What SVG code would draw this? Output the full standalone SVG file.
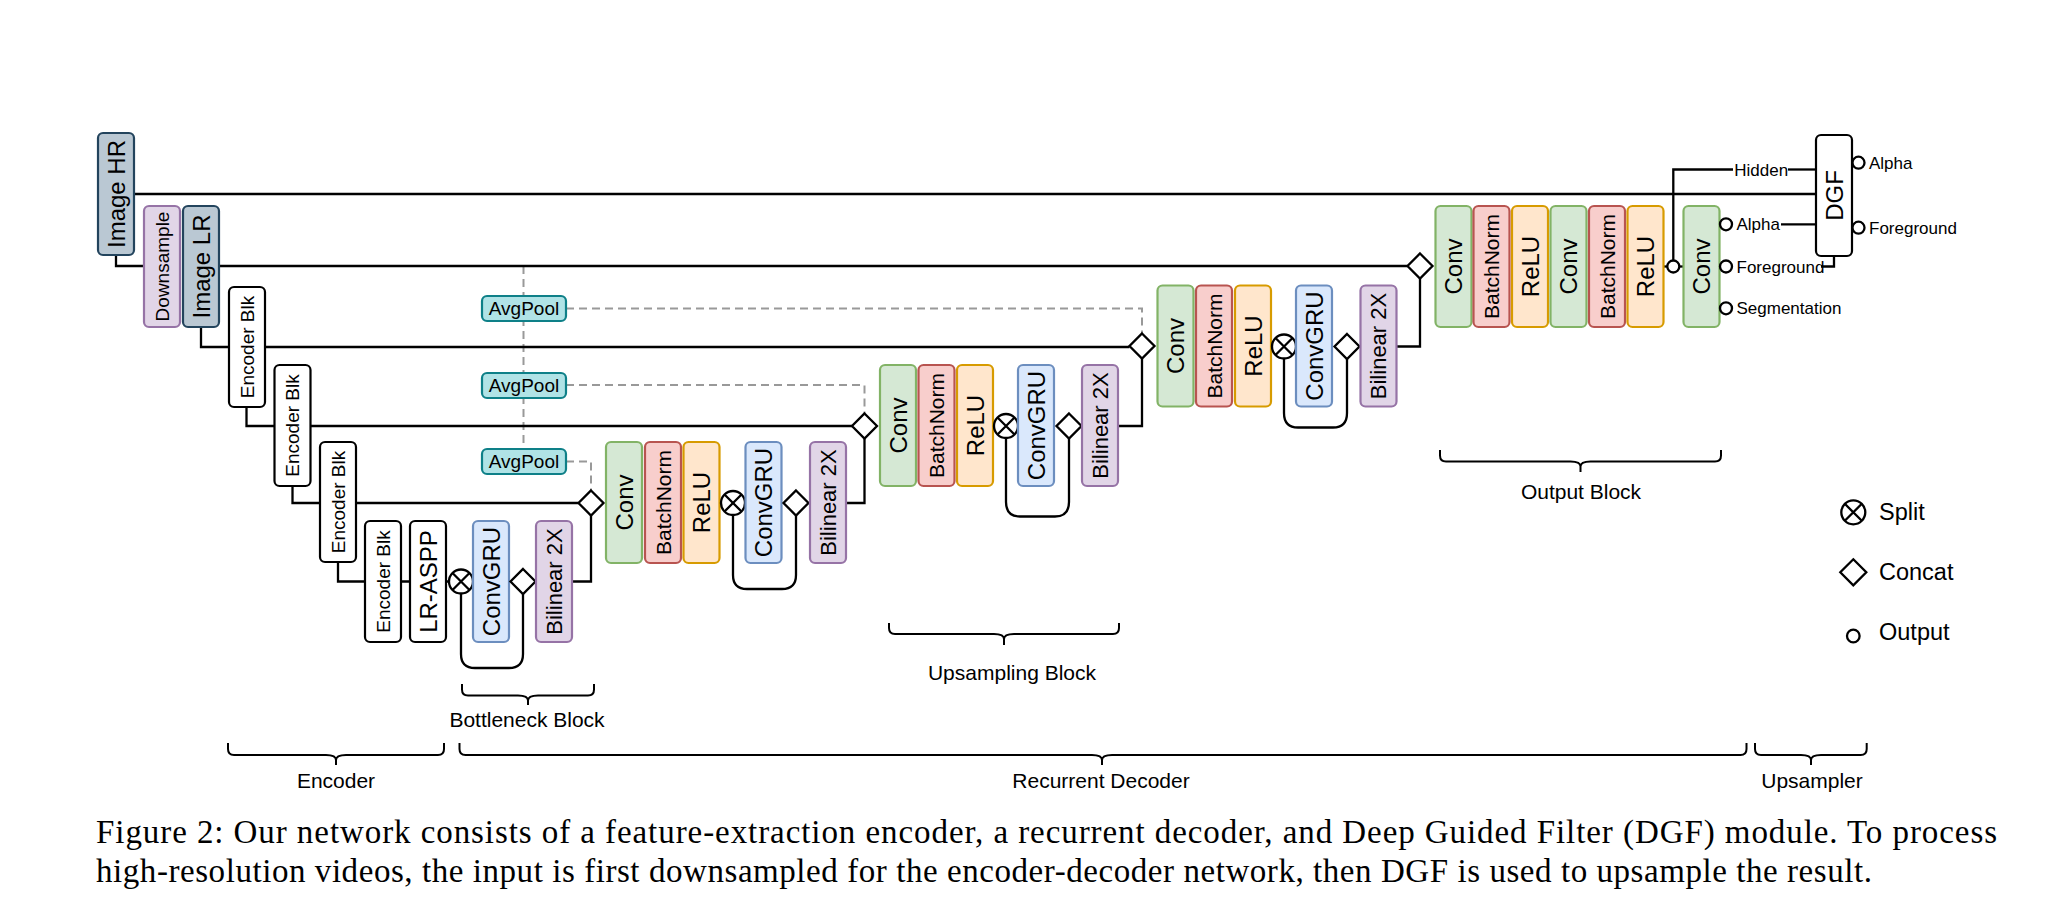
<svg xmlns="http://www.w3.org/2000/svg" width="2056" height="918" viewBox="0 0 2056 918">
<style>
rect.n{stroke-width:2.2}
.g{fill:#d5e8d4;stroke:#82b366}
.r{fill:#f8cecc;stroke:#b85450}
.o{fill:#ffe6cc;stroke:#d79b00}
.b{fill:#dae8fc;stroke:#6c8ebf}
.p{fill:#e1d5e7;stroke:#9673a6}
.s{fill:#bac8d3;stroke:#23445d}
.t{fill:#b0e3e6;stroke:#0e8088}
.w{fill:#ffffff;stroke:#000000}
text{font-family:"Liberation Sans",Arial,Helvetica,sans-serif;fill:#000}
.vt{text-anchor:middle;dominant-baseline:central}
.f24{font-size:24px}.f22{font-size:22px}.f21{font-size:21px}.f19{font-size:19px}
.sm{font-size:17px}
.lb{font-size:21px;text-anchor:middle}
.lg{font-size:23.5px}
.cap{font-family:"Liberation Serif","Times New Roman",serif;font-size:33px}
.ln{fill:none;stroke:#000;stroke-width:2.3}
.da{fill:none;stroke:#999;stroke-width:2;stroke-dasharray:8 5}
.sym{fill:#fff;stroke:#000;stroke-width:2.3}
.br{fill:none;stroke:#000;stroke-width:2}
</style>
<defs>
<g id="split"><circle r="12" class="sym"/><path d="M-8.5 -8.5L8.5 8.5M8.5 -8.5L-8.5 8.5" class="ln"/></g>
<path id="concat" d="M0 -12.5L12.5 0L0 12.5L-12.5 0Z" class="sym"/>
<circle id="outc" r="6" class="sym"/>
</defs>

<g id="connectors">
<path class="da" d="M523.5 266V449"/>
<path class="da" d="M566 308.5H1142V333.5"/>
<path class="da" d="M566 385H864.5V413.5"/>
<path class="da" d="M566 461.5H591V490.5"/>
<path class="ln" d="M134 194H1816"/>
<path class="ln" d="M116 255V266H144"/>
<path class="ln" d="M219 266H1407.5"/>
<path class="ln" d="M201 327V347H1129.5"/>
<path class="ln" d="M246.5 407V426H852"/>
<path class="ln" d="M292.5 486V503H578.5"/>
<path class="ln" d="M338 562V581.5H449"/>
<path class="ln" d="M573 581.5H591V515.5"/>
<path class="ln" d="M461 593.5V654Q461 668 475 668H509Q523 668 523 654V594"/>
<path class="ln" d="M846 503H864.5V438.5"/>
<path class="ln" d="M733 515V575Q733 589 747 589H782Q796 589 796 575V515.5"/>
<path class="ln" d="M1118 426H1142V358.5"/>
<path class="ln" d="M1006 438V502Q1006 516.5 1020 516.5H1055Q1069 516.5 1069 502V438.5"/>
<path class="ln" d="M1397 346.5H1420V278.5"/>
<path class="ln" d="M1284 358.5V413Q1284 427.5 1298 427.5H1333Q1347 427.5 1347 413V359"/>
<path class="ln" d="M1664 266.5H1683.5"/>
<path class="ln" d="M1673.3 260.5V169.5H1733"/>
<path class="ln" d="M1788 169.5H1816"/>
<path class="ln" d="M1781 224.3H1816"/>
<path class="ln" d="M1821 266.5H1834V256"/>
</g>

<g id="image_hr"><rect class="n s" x="98" y="133" width="36" height="122" rx="5"/><text class="vt f24" transform="translate(116 194) rotate(-90)">Image HR</text></g>
<g id="downsample"><rect class="n p" x="144" y="206" width="36" height="121" rx="5"/><text class="vt f19" transform="translate(162 266.5) rotate(-90)">Downsample</text></g>
<g id="image_lr"><rect class="n s" x="183" y="206" width="36" height="121" rx="5"/><text class="vt f24" transform="translate(201 266.5) rotate(-90)">Image LR</text></g>
<g id="enc1"><rect class="n w" x="229" y="287" width="36" height="120" rx="5"/><text class="vt f19" transform="translate(247 347) rotate(-90)">Encoder Blk</text></g>
<g id="enc2"><rect class="n w" x="274.5" y="365" width="36" height="121" rx="5"/><text class="vt f19" transform="translate(292.5 425.5) rotate(-90)">Encoder Blk</text></g>
<g id="enc3"><rect class="n w" x="320" y="442" width="36" height="120" rx="5"/><text class="vt f19" transform="translate(338 502) rotate(-90)">Encoder Blk</text></g>
<g id="enc4"><rect class="n w" x="365" y="521" width="36" height="121" rx="5"/><text class="vt f19" transform="translate(383 581.5) rotate(-90)">Encoder Blk</text></g>
<g id="lraspp"><rect class="n w" x="410" y="521" width="36" height="121" rx="5"/><text class="vt f24" transform="translate(428 581.5) rotate(-90)">LR-ASPP</text></g>
<g id="bn_split"><use href="#split" x="461" y="581.5"/></g>
<g id="bn_convgru"><rect class="n b" x="473" y="521" width="36" height="121" rx="5"/><text class="vt f24" transform="translate(491 581.5) rotate(-90)">ConvGRU</text></g>
<g id="bn_concat"><use href="#concat" x="523" y="581.5"/></g>
<g id="bn_bilinear"><rect class="n p" x="536" y="521" width="36" height="121" rx="5"/><text class="vt f22" transform="translate(554 581.5) rotate(-90)">Bilinear 2X</text></g>

<g id="avgpool1"><rect class="n t" x="482" y="296" width="84" height="25" rx="5"/><text class="vt f19" x="524" y="308.5">AvgPool</text></g>
<g id="avgpool2"><rect class="n t" x="482" y="373" width="84" height="25" rx="5"/><text class="vt f19" x="524" y="385.5">AvgPool</text></g>
<g id="avgpool3"><rect class="n t" x="482" y="449" width="84" height="25" rx="5"/><text class="vt f19" x="524" y="461.5">AvgPool</text></g>

<g id="s2_concat"><use href="#concat" x="591" y="503"/></g>
<g id="s2_conv"><rect class="n g" x="606" y="442" width="36" height="121" rx="5"/><text class="vt f24" transform="translate(624 502.5) rotate(-90)">Conv</text></g>
<g id="s2_bn"><rect class="n r" x="645" y="442" width="36" height="121" rx="5"/><text class="vt f21" transform="translate(663 502.5) rotate(-90)">BatchNorm</text></g>
<g id="s2_relu"><rect class="n o" x="683.5" y="442" width="36" height="121" rx="5"/><text class="vt f24" transform="translate(701.5 502.5) rotate(-90)">ReLU</text></g>
<g id="s2_split"><use href="#split" x="733" y="503"/></g>
<g id="s2_convgru"><rect class="n b" x="745.5" y="442" width="36" height="121" rx="5"/><text class="vt f24" transform="translate(763.5 502.5) rotate(-90)">ConvGRU</text></g>
<g id="s2_concat2"><use href="#concat" x="796" y="503"/></g>
<g id="s2_bilinear"><rect class="n p" x="810" y="442" width="36" height="121" rx="5"/><text class="vt f22" transform="translate(828 502.5) rotate(-90)">Bilinear 2X</text></g>

<g id="s3_concat"><use href="#concat" x="864.5" y="426"/></g>
<g id="s3_conv"><rect class="n g" x="880" y="365" width="36" height="121" rx="5"/><text class="vt f24" transform="translate(898 425.5) rotate(-90)">Conv</text></g>
<g id="s3_bn"><rect class="n r" x="918.5" y="365" width="36" height="121" rx="5"/><text class="vt f21" transform="translate(936.5 425.5) rotate(-90)">BatchNorm</text></g>
<g id="s3_relu"><rect class="n o" x="957" y="365" width="36" height="121" rx="5"/><text class="vt f24" transform="translate(975 425.5) rotate(-90)">ReLU</text></g>
<g id="s3_split"><use href="#split" x="1006" y="426"/></g>
<g id="s3_convgru"><rect class="n b" x="1018" y="365" width="36" height="121" rx="5"/><text class="vt f24" transform="translate(1036 425.5) rotate(-90)">ConvGRU</text></g>
<g id="s3_concat2"><use href="#concat" x="1069" y="426"/></g>
<g id="s3_bilinear"><rect class="n p" x="1082" y="365" width="36" height="121" rx="5"/><text class="vt f22" transform="translate(1100 425.5) rotate(-90)">Bilinear 2X</text></g>

<g id="s4_concat"><use href="#concat" x="1142" y="346"/></g>
<g id="s4_conv"><rect class="n g" x="1157.5" y="285.5" width="36" height="121" rx="5"/><text class="vt f24" transform="translate(1175.5 346) rotate(-90)">Conv</text></g>
<g id="s4_bn"><rect class="n r" x="1196" y="285.5" width="36" height="121" rx="5"/><text class="vt f21" transform="translate(1214 346) rotate(-90)">BatchNorm</text></g>
<g id="s4_relu"><rect class="n o" x="1235" y="285.5" width="36" height="121" rx="5"/><text class="vt f24" transform="translate(1253 346) rotate(-90)">ReLU</text></g>
<g id="s4_split"><use href="#split" x="1284" y="346.5"/></g>
<g id="s4_convgru"><rect class="n b" x="1296" y="285.5" width="36" height="121" rx="5"/><text class="vt f24" transform="translate(1314 346) rotate(-90)">ConvGRU</text></g>
<g id="s4_concat2"><use href="#concat" x="1347" y="346.5"/></g>
<g id="s4_bilinear"><rect class="n p" x="1360.5" y="285.5" width="36" height="121" rx="5"/><text class="vt f22" transform="translate(1378.5 346) rotate(-90)">Bilinear 2X</text></g>

<g id="out_concat"><use href="#concat" x="1420" y="266"/></g>
<g id="out_conv1"><rect class="n g" x="1435.5" y="206" width="36" height="121" rx="5"/><text class="vt f24" transform="translate(1453.5 266.5) rotate(-90)">Conv</text></g>
<g id="out_bn1"><rect class="n r" x="1473.5" y="206" width="36" height="121" rx="5"/><text class="vt f21" transform="translate(1491.5 266.5) rotate(-90)">BatchNorm</text></g>
<g id="out_relu1"><rect class="n o" x="1512" y="206" width="36" height="121" rx="5"/><text class="vt f24" transform="translate(1530 266.5) rotate(-90)">ReLU</text></g>
<g id="out_conv2"><rect class="n g" x="1550.5" y="206" width="36" height="121" rx="5"/><text class="vt f24" transform="translate(1568.5 266.5) rotate(-90)">Conv</text></g>
<g id="out_bn2"><rect class="n r" x="1589" y="206" width="36" height="121" rx="5"/><text class="vt f21" transform="translate(1607 266.5) rotate(-90)">BatchNorm</text></g>
<g id="out_relu2"><rect class="n o" x="1627.5" y="206" width="36" height="121" rx="5"/><text class="vt f24" transform="translate(1645.5 266.5) rotate(-90)">ReLU</text></g>
<g id="out_hidden"><use href="#outc" x="1673.3" y="266.5"/><text class="sm" x="1734.3" y="175.5">Hidden</text></g>
<g id="out_conv3"><rect class="n g" x="1683.5" y="206" width="36" height="121" rx="5"/><text class="vt f24" transform="translate(1701.5 266.5) rotate(-90)">Conv</text></g>
<g id="out_alpha"><use href="#outc" x="1726" y="224.3"/><text class="sm" x="1736.5" y="230.3">Alpha</text></g>
<g id="out_fg"><use href="#outc" x="1726" y="266.5"/><text class="sm" x="1736.5" y="272.5">Foreground</text></g>
<g id="out_seg"><use href="#outc" x="1726" y="308.3"/><text class="sm" x="1736.5" y="314.3">Segmentation</text></g>

<g id="dgf"><rect class="n w" x="1816" y="135" width="36" height="121" rx="5"/><text class="vt f24" transform="translate(1834 195.5) rotate(-90)">DGF</text></g>
<g id="dgf_alpha"><use href="#outc" x="1858.5" y="162.7"/><text class="sm" x="1869" y="168.7">Alpha</text></g>
<g id="dgf_fg"><use href="#outc" x="1858.5" y="227.7"/><text class="sm" x="1869" y="233.7">Foreground</text></g>

<g id="legend">
<use href="#split" x="1853.3" y="512.3"/><text class="lg" x="1879" y="520">Split</text>
<path d="M1853.3 559.3L1866.3 572.3L1853.3 585.3L1840.3 572.3Z" class="sym"/><text class="lg" x="1879" y="580">Concat</text>
<circle cx="1853.3" cy="636" r="6.3" class="sym"/><text class="lg" x="1879" y="640">Output</text>
</g>

<g id="braces">
<path class="br" d="M462 684V689.5Q462 695.5 468 695.5H518Q528 695.5 528 700.5V705M528 700.5Q528 695.5 538 695.5H588Q594 695.5 594 689.5V684"/>
<path class="br" d="M889 623V628Q889 634 895 634H994Q1004 634 1004 639V645M1004 639Q1004 634 1014 634H1113Q1119 634 1119 628V623"/>
<path class="br" d="M1440 450V455.5Q1440 461.5 1446 461.5H1570.5Q1580.5 461.5 1580.5 466.5V472M1580.5 466.5Q1580.5 461.5 1590.5 461.5H1715Q1721 461.5 1721 455.5V450"/>
<path class="br" d="M228 743V749Q228 755 234 755H326Q336 755 336 760V765M336 760Q336 755 346 755H438Q444 755 444 749V743"/>
<path class="br" d="M459.5 743V749Q459.5 755 465.5 755H1092Q1102 755 1102 760V765M1102 760Q1102 755 1112 755H1740.5Q1746.5 755 1746.5 749V743"/>
<path class="br" d="M1755 743V749Q1755 755 1761 755H1801Q1811 755 1811 760V765M1811 760Q1811 755 1821 755H1860.7Q1866.7 755 1866.7 749V743"/>
</g>
<g id="labels">
<text class="lb" x="527" y="727">Bottleneck Block</text>
<text class="lb" x="1012" y="680">Upsampling Block</text>
<text class="lb" x="1581" y="499">Output Block</text>
<text class="lb" x="336" y="788">Encoder</text>
<text class="lb" x="1101" y="788">Recurrent Decoder</text>
<text class="lb" x="1812" y="788">Upsampler</text>
</g>
<g id="caption">
<text class="cap" x="96" y="843" textLength="1901">Figure 2: Our network consists of a feature-extraction encoder, a recurrent decoder, and Deep Guided Filter (DGF) module. To process</text>
<text class="cap" x="96" y="882" textLength="1776">high-resolution videos, the input is first downsampled for the encoder-decoder network, then DGF is used to upsample the result.</text>
</g>
</svg>
